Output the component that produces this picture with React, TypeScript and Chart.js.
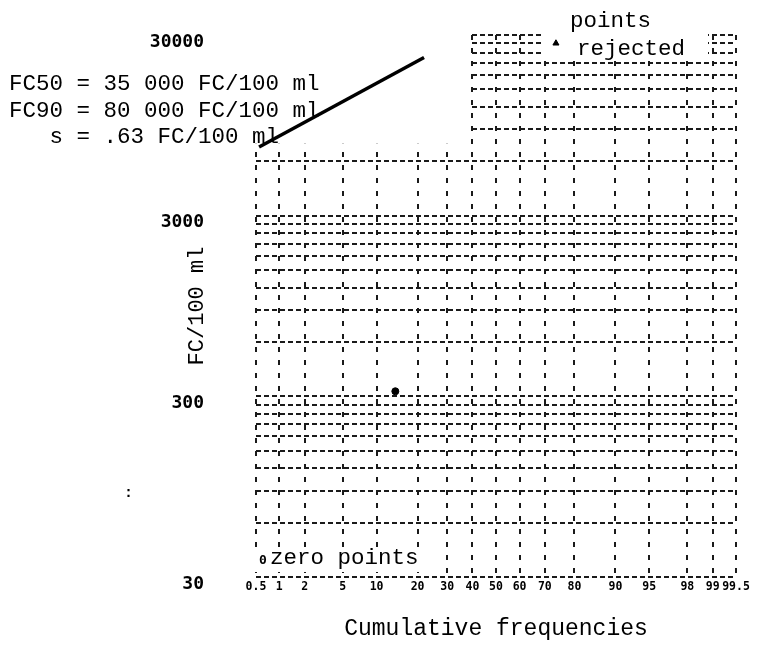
import React, { useEffect, useRef } from "react";
import { Chart, registerables } from "chart.js";

Chart.register(...registerables);

// ---- data ----
const xTickPercents = [0.5, 1, 2, 5, 10, 20, 30, 40, 50, 60, 70, 80, 90, 95, 98, 99, 99.5];
const xTickLabels = ["0.5", "1", "2", "5", "10", "20", "30", "40", "50", "60", "70", "80", "90", "95", "98", "99", "99.5"];
const yGridValues = [
  30, 60, 90, 120, 150, 180, 210, 240, 270, 300,
  600, 900, 1200, 1500, 1800, 2100, 2400, 2700, 3000,
  6000, 9000, 12000, 15000, 18000, 21000, 24000, 27000, 30000,
];
const yLabelValues = [30, 300, 3000, 30000];

const fitPercent = [0.55, 22];
const fitValue = [7200, 22500];
const samplePercent = [14];
const sampleValue = [320];
const rejectedPercent = [74];
const rejectedValue = [27000];

const statLines = ["FC50 = 35 000 FC/100 ml", "FC90 = 80 000 FC/100 ml", "   s = .63 FC/100 ml"];

// inverse standard normal CDF (probability-paper axis transform)
function probit(p: number): number {
  const a = [-3.969683028665376e1, 2.209460984245205e2, -2.759285104469687e2, 1.38357751867269e2, -3.066479806614716e1, 2.506628277459239];
  const b = [-5.447609879822406e1, 1.615858368580409e2, -1.556989798598866e2, 6.680131188771972e1, -1.328068155288572e1];
  const c = [-7.784894002430293e-3, -3.223964580411365e-1, -2.400758277161838, -2.549732539343734, 4.374664141464968, 2.938163982698783];
  const d = [7.784695709041462e-3, 3.224671290700398e-1, 2.445134137142996, 3.754408661907416];
  const plow = 0.02425;
  const phigh = 1 - plow;
  let q: number, r: number;
  if (p < plow) {
    q = Math.sqrt(-2 * Math.log(p));
    return (((((c[0] * q + c[1]) * q + c[2]) * q + c[3]) * q + c[4]) * q + c[5]) / ((((d[0] * q + d[1]) * q + d[2]) * q + d[3]) * q + 1);
  }
  if (p <= phigh) {
    q = p - 0.5;
    r = q * q;
    return ((((((a[0] * r + a[1]) * r + a[2]) * r + a[3]) * r + a[4]) * r + a[5]) * q) / (((((b[0] * r + b[1]) * r + b[2]) * r + b[3]) * r + b[4]) * r + 1);
  }
  q = Math.sqrt(-2 * Math.log(1 - p));
  return -(((((c[0] * q + c[1]) * q + c[2]) * q + c[3]) * q + c[4]) * q + c[5]) / ((((d[0] * q + d[1]) * q + d[2]) * q + d[3]) * q + 1);
}

const MONO = '"Liberation Mono", "DejaVu Sans Mono", monospace';
const DOT = '"DejaVu Sans Mono", monospace';

const maskPlugin = {
  id: "mask",
  beforeDatasetsDraw(chart: any) {
    const { ctx, chartArea, scales } = chart;
    const xr = scales.x.getPixelForValue(probit(0.397)) - 1.5;
    const yb = scales.y.getPixelForValue(7500);
    ctx.save();
    ctx.fillStyle = "#fff";
    ctx.fillRect(chartArea.left - 4, chartArea.top - 4, xr - chartArea.left + 4, yb - chartArea.top + 4);
    // clear behind "rejected"
    ctx.fillRect(543, chartArea.top - 6, 165, 28);
    // clear behind "zero points"
    ctx.fillRect(chartArea.left - 3, 549, 168, 23);
    ctx.restore();
  },
  afterDraw(chart: any) {
    const { ctx } = chart;
    ctx.save();
    ctx.fillStyle = "#000";
    ctx.textAlign = "left";
    ctx.textBaseline = "alphabetic";
    ctx.font = `22.5px ${MONO}`;
    statLines.forEach((t, i) => ctx.fillText(t, 9, 90 + i * 26.5));
    ctx.fillText("points", 570, 27);
    ctx.fillText("rejected", 577, 55);
    ctx.fillText("zero points", 270, 564);
    ctx.font = `bold 13px ${DOT}`;
    ctx.fillText("0", 259, 564);
    ctx.font = `bold 15px ${MONO}`;
    ctx.fillText(":", 124, 497);
    ctx.restore();
  },
};

export default function App() {
  const ref = useRef<HTMLCanvasElement | null>(null);

  useEffect(() => {
    if (!ref.current) return;
    const chart = new Chart(ref.current, {
      type: "scatter",
      data: {
        datasets: [
          {
            label: "Fitted line",
            data: fitPercent.map((p, i) => ({ x: probit(p / 100), y: fitValue[i] })),
            showLine: true,
            borderColor: "#000",
            borderWidth: 3.5,
            pointRadius: 0,
          },
          {
            label: "Sample",
            data: samplePercent.map((p, i) => ({ x: probit(p / 100), y: sampleValue[i] })),
            pointRadius: 3.5,
            pointStyle: "circle",
            backgroundColor: "#000",
            borderColor: "#000",
          },
          {
            label: "Rejected",
            data: rejectedPercent.map((p, i) => ({ x: probit(p / 100), y: rejectedValue[i] })),
            pointRadius: 3.5,
            pointStyle: "triangle",
            backgroundColor: "#000",
            borderColor: "#000",
          },
        ],
      },
      options: {
        animation: false,
        responsive: false,
        devicePixelRatio: 1,
        layout: { padding: { left: 140, right: 27, top: 35, bottom: 0 } },
        plugins: { legend: { display: false }, tooltip: { enabled: false } },
        scales: {
          x: {
            type: "linear",
            min: probit(0.005),
            max: probit(0.995),
            afterBuildTicks: (s: any) => {
              s.ticks = xTickPercents.map((p) => ({ value: probit(p / 100) }));
            },
            afterFit: (s: any) => {
              s.height = 69;
              s.paddingLeft = 0;
              s.paddingRight = 0;
            },
            ticks: {
              autoSkip: false,
              maxRotation: 0,
              padding: 3,
              color: "#000",
              font: { family: DOT, weight: "bold", size: 11.5 },
              callback: (_v: any, i: number) => xTickLabels[i],
            },
            grid: { color: "#1a1a1a", lineWidth: 2, drawTicks: false },
            border: { display: false, dash: [5, 8] },
            title: {
              display: true,
              text: "Cumulative frequencies",
              color: "#000",
              font: { family: MONO, size: 23 },
              padding: { top: 0, bottom: 3 },
            },
          },
          y: {
            type: "logarithmic",
            min: 30,
            max: 30000,
            afterBuildTicks: (s: any) => {
              s.ticks = yGridValues.map((v) => ({ value: v }));
            },
            afterFit: (s: any) => {
              s.width = 116;
              s.paddingTop = 0;
              s.paddingBottom = 0;
            },
            ticks: {
              autoSkip: false,
              padding: 52,
              labelOffset: 7,
              color: "#000",
              font: { family: DOT, weight: "bold", size: 18 },
              callback: (v: any) => {
                const n = Number(v);
                return yLabelValues.some((l) => Math.abs(l - n) < l * 1e-6) ? String(Math.round(n)) : "";
              },
            },
            grid: { color: "#1a1a1a", lineWidth: 2, drawTicks: false },
            border: { display: false, dash: [5, 3] },
            title: {
              display: true,
              text: "FC/100 ml",
              color: "#000",
              font: { family: MONO, size: 22 },
              padding: { top: 44, bottom: 0 },
            },
          },
        },
      } as any,
      plugins: [maskPlugin],
    });
    return () => chart.destroy();
  }, []);

  return (
    <canvas
      ref={ref}
      width={763}
      height={646}
      style={{ position: "absolute", left: 0, top: 0, width: 763, height: 646 }}
    />
  );
}
